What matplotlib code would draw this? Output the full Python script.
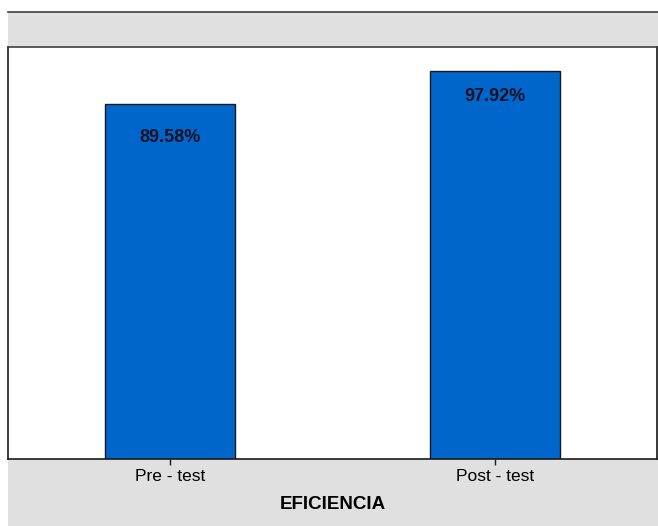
import matplotlib.pyplot as plt
from matplotlib.patches import Rectangle

plt.rcParams['font.family'] = ['Liberation Sans', 'DejaVu Sans']

categories = ['Pre - test', 'Post - test']
values = [89.58, 97.92]
labels = ['89.58%', '97.92%']
label_drop = [8.6, 6.6]

fig = plt.figure(figsize=(6.58, 5.26), dpi=100)
fig.patch.set_facecolor('white')

W, H = 658.0, 526.0
# gray frame behind the plot
bg = Rectangle((8 / W, 0), 650 / W, (H - 12) / H, transform=fig.transFigure,
               facecolor='#e0e0e0', edgecolor='none', zorder=-10)
fig.add_artist(bg)
fig.add_artist(plt.Line2D([8 / W, 1], [(H - 12) / H, (H - 12) / H],
                          transform=fig.transFigure, color='#404040', lw=1.2,
                          zorder=-5))

ax = fig.add_axes([8 / W, (H - 459) / H, 649 / W, 412 / H])
ax.set_facecolor('white')

x = range(len(categories))
ax.bar(x, values, width=0.4, color='#0066cc', edgecolor='#1a1a1a', linewidth=1.0)
for i, v in enumerate(values):
    ax.text(i, v - label_drop[i], labels[i], ha='center', va='center',
            fontsize=13, fontweight='bold', color='#111122')

ax.set_xlim(-0.5, 1.5)
ax.set_ylim(0, 103.9)
ax.set_yticks([])
ax.set_xticks(list(x))
ax.set_xticklabels(categories, fontsize=12.5)
ax.tick_params(axis='x', length=4, width=1, pad=3, color='#1a1a1a')
ax.set_xlabel('EFICIENCIA', fontsize=13.5, fontweight='bold', labelpad=9)

for s in ax.spines.values():
    s.set_color('#1a1a1a')
    s.set_linewidth(1.2)
ax.spines['top'].set_color('#404040')

fig.savefig('out.png', dpi=100)
